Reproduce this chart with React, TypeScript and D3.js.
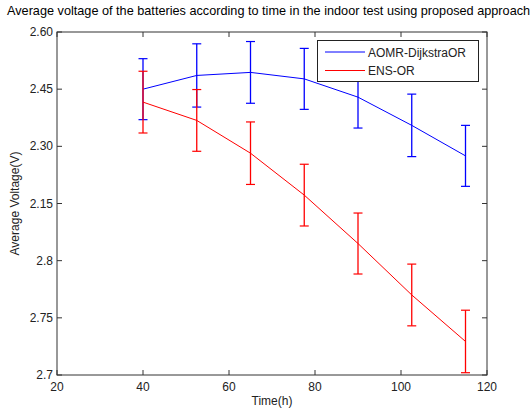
import React, { useEffect, useRef } from "react";
import * as d3 from "d3";

// time points (h)
const times = [40, 52.5, 65, 77.5, 90, 102.5, 115];
// AOMR-DijkstraOR mean and error
const aomrMean = [2.45, 2.486, 2.494, 2.477, 2.429, 2.355, 2.275];
const aomrErr = [0.08, 0.083, 0.081, 0.08, 0.081, 0.082, 0.08];
// ENS-OR mean and error
const ensMean = [2.416, 2.368, 2.282, 2.172, 2.045, 1.91, 1.788];
const ensErr = [0.081, 0.081, 0.082, 0.081, 0.08, 0.081, 0.082];
// y ticks (positions) and the labels printed on them
const yTicks = [1.7, 1.85, 2.0, 2.15, 2.3, 2.45, 2.6];
const yTickLabels = ["2.7", "2.75", "2.8", "2.15", "2.30", "2.45", "2.60"];
const xTicks = [20, 40, 60, 80, 100, 120];

const series = [
  { name: "AOMR-DijkstraOR", mean: aomrMean, err: aomrErr, color: "#0000ff" },
  { name: "ENS-OR", mean: ensMean, err: ensErr, color: "#ff0000" },
];

const App = () => {
  const ref = useRef(null);
  useEffect(() => {
    const width = 532;
    const height = 409;
    const m = { left: 57, right: 45, top: 32, bottom: 34 };
    d3.select(ref.current).selectAll("*").remove();
    const svg = d3
      .select(ref.current)
      .append("svg")
      .attr("width", width)
      .attr("height", height)
      .style("position", "absolute")
      .style("left", 0)
      .style("top", 0)
      .style("font-family", "'Liberation Sans', Arial, sans-serif");

    const x = d3.scaleLinear().domain([20, 120]).range([m.left, width - m.right]);
    const y = d3.scaleLinear().domain([1.7, 2.6]).range([height - m.bottom, m.top]);

    // title (runs off the right edge like the original)
    svg
      .append("text")
      .attr("x", 7)
      .attr("y", 15)
      .attr("font-size", 12.7)
      .attr("fill", "#000")
      .text("Average voltage of the batteries according to time in the indoor test using proposed approach");

    const axisColor = "#333";
    // box
    svg
      .append("rect")
      .attr("x", m.left)
      .attr("y", m.top)
      .attr("width", width - m.right - m.left)
      .attr("height", height - m.bottom - m.top)
      .attr("fill", "none")
      .attr("stroke", axisColor);

    // inward ticks, all four sides
    const tickLen = 5;
    const gx = svg.append("g");
    xTicks.forEach((t) => {
      gx.append("line").attr("x1", x(t)).attr("x2", x(t)).attr("y1", y(1.7)).attr("y2", y(1.7) - tickLen).attr("stroke", axisColor);
      gx.append("line").attr("x1", x(t)).attr("x2", x(t)).attr("y1", y(2.6)).attr("y2", y(2.6) + tickLen).attr("stroke", axisColor);
      gx.append("text")
        .attr("x", x(t))
        .attr("y", y(1.7) + 16)
        .attr("text-anchor", "middle")
        .attr("font-size", 12)
        .attr("fill", "#222")
        .text(t);
    });
    yTicks.forEach((t, i) => {
      gx.append("line").attr("x1", x(20)).attr("x2", x(20) + tickLen).attr("y1", y(t)).attr("y2", y(t)).attr("stroke", axisColor);
      gx.append("line").attr("x1", x(120)).attr("x2", x(120) - tickLen).attr("y1", y(t)).attr("y2", y(t)).attr("stroke", axisColor);
      gx.append("text")
        .attr("x", x(20) - 4)
        .attr("y", y(t) + 4)
        .attr("text-anchor", "end")
        .attr("font-size", 12)
        .attr("fill", "#222")
        .text(yTickLabels[i]);
    });

    svg
      .append("text")
      .attr("x", (m.left + width - m.right) / 2)
      .attr("y", height - 4)
      .attr("text-anchor", "middle")
      .attr("font-size", 12)
      .attr("fill", "#222")
      .text("Time(h)");
    svg
      .append("text")
      .attr("transform", `translate(19, ${(m.top + height - m.bottom) / 2}) rotate(-90)`)
      .attr("text-anchor", "middle")
      .attr("font-size", 12)
      .attr("fill", "#222")
      .text("Average Voltage(V)");

    const line = d3
      .line<number>()
      .x((d, i) => x(times[i]))
      .y((d) => y(d));

    series.forEach((s) => {
      const g = svg.append("g");
      g.append("path").attr("d", line(s.mean)).attr("fill", "none").attr("stroke", s.color).attr("stroke-width", 1);
      s.mean.forEach((v, i) => {
        const cx = x(times[i]);
        const top = y(v + s.err[i]);
        const bot = y(v - s.err[i]);
        g.append("line").attr("x1", cx).attr("x2", cx).attr("y1", top).attr("y2", bot).attr("stroke", s.color).attr("stroke-width", 1.3);
        [top, bot].forEach((yy) =>
          g.append("line").attr("x1", cx - 4.5).attr("x2", cx + 4.5).attr("y1", yy).attr("y2", yy).attr("stroke", s.color).attr("stroke-width", 1.2)
        );
      });
    });

    // legend
    const lg = svg.append("g");
    lg.append("rect")
      .attr("x", 317.5)
      .attr("y", 40.5)
      .attr("width", 161)
      .attr("height", 41)
      .attr("fill", "#fff")
      .attr("stroke", "#222");
    series.forEach((s, i) => {
      const ly = 52 + i * 18.5;
      lg.append("line").attr("x1", 325).attr("x2", 365).attr("y1", ly).attr("y2", ly).attr("stroke", s.color);
      lg.append("text")
        .attr("x", 368)
        .attr("y", ly + 4.5)
        .attr("font-size", 12)
        .attr("fill", "#222")
        .text(s.name);
    });
  }, []);
  return <div ref={ref}></div>;
};

export default App;
